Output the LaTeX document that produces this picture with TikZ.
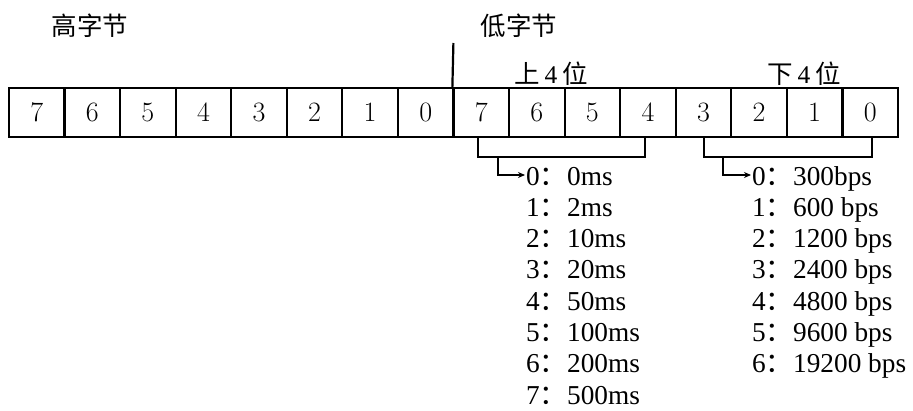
\documentclass[tikz,border=0pt]{standalone}
\usepackage{fontspec}
\newfontfamily\cjk{Noto Sans CJK SC}
\newfontfamily\tnr{Liberation Serif}
\usetikzlibrary{arrows.meta,calc}
\newcommand\cco{{\cjk ：}}
\begin{document}
\begin{tikzpicture}[x=1pt,y=-1pt,
  cell/.style={draw,line width=2.2pt,minimum width=55.56pt,minimum height=49pt,inner sep=0pt,font=\fontsize{28}{28}\selectfont},
  cjklbl/.style={inner sep=0pt,font=\fontsize{25.5}{25.5}\selectfont\cjk},
  item/.style={anchor=base west,inner sep=0pt,font=\fontsize{27.3}{27.3}\selectfont\tnr},
  line/.style={line width=2.2pt},
  arr/.style={line width=1.4pt,-{Stealth[length=7pt,width=6pt]}}]
\useasboundingbox (0,0) rectangle (913,410);
% cells
\foreach \i/\d in {0/7,1/6,2/5,3/4,4/3,5/2,6/1,7/0,8/7,9/6,10/5,11/4,12/3,13/2,14/1,15/0}{
  \node[cell] (c\i) at ({9+55.56*\i+27.78},112.5) {\d};
}
% labels
\node[cjklbl] (hi) at (90,26) {高字节};
\node[cjklbl] (lo) at (519,26) {低字节};
\node[cjklbl] (up) at (551,74) {上\hspace{5pt}{\tnr 4}\hspace{5pt}位};
\node[cjklbl] (dn) at (804,74) {下\hspace{5pt}{\tnr 4}\hspace{5pt}位};
% divider
\coordinate (v) at (453.4,43);
\draw[line] (v) -- (c8.north west);
% brackets
\draw[line] (c8.south -| 478,0) -- (478,157) -- (645,157) -- (c11.south -| 645,0);
\draw[line] (c12.south -| 704,0) -- (704,157) -- (872,157) -- (c15.south -| 872,0);
\coordinate (b1) at (498,157);
\coordinate (b2) at (723,157);
% lists
\foreach \k/\t in {0/0ms,1/2ms,2/10ms,3/20ms,4/50ms,5/100ms,6/200ms,7/500ms}{
  \node[item] (m\k) at (526,{185+31.3*\k}) {\k\cco\t};
}
\foreach \k/\t in {0/300bps,1/600 bps,2/1200 bps,3/2400 bps,4/4800 bps,5/9600 bps,6/19200 bps}{
  \node[item] (r\k) at (752,{185+31.3*\k}) {\k\cco\t};
}
\draw[arr] (b1) |- ($(m0.base west)+(-1,-10)$);
\draw[arr] (b2) |- ($(r0.base west)+(-1,-10)$);
\end{tikzpicture}
\end{document}
